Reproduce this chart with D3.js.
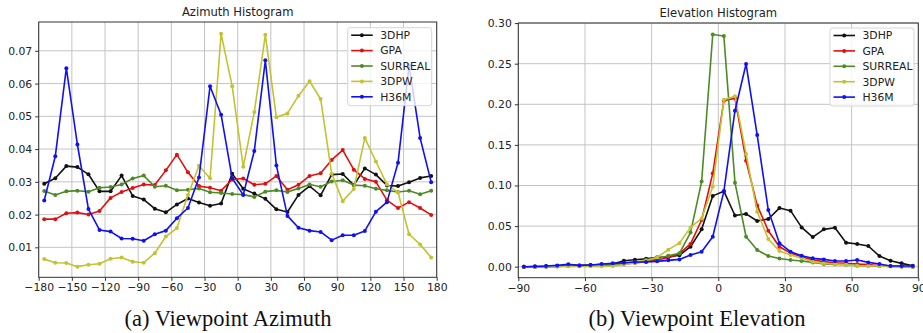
<!DOCTYPE html>
<html>
<head>
<meta charset="utf-8">
<script src="https://cdn.jsdelivr.net/npm/d3@7"></script>
<style>
  html, body { margin: 0; padding: 0; background: #fff; }
  svg { display: block; }
  text { font-family: "DejaVu Sans", sans-serif; fill: #222; }
  .caption { font-family: "Liberation Serif", "DejaVu Serif", serif; fill: #111; }
</style>
</head>
<body>
<svg id="fig" width="923" height="333"></svg>
<script>
// Series names and colours (legend order, also drawing order)
const seriesNames = ["3DHP", "GPA", "SURREAL", "3DPW", "H36M"];
const seriesColors = ["#111111", "#e01010", "#4e8a26", "#c2c232", "#1010f0"];

// Azimuth histogram: 10-degree bins, centres -175 .. 175
const azimuthBins = d3.range(-175, 180, 10);
const azimuth3DHP = [0.0294, 0.0311, 0.0348, 0.0345, 0.0323, 0.0271, 0.0271, 0.0319, 0.0257, 0.0246, 0.0218, 0.0207, 0.0231, 0.0249, 0.0237, 0.0227, 0.0234, 0.0325,
                     0.0279, 0.0264, 0.0248, 0.0216, 0.0208, 0.0260, 0.0287, 0.0259, 0.0322, 0.0324, 0.0290, 0.0341, 0.0322, 0.0289, 0.0287, 0.0299, 0.0312, 0.0318];
const azimuthGPA = [0.0186, 0.0186, 0.0204, 0.0206, 0.0200, 0.0211, 0.0251, 0.0269, 0.0281, 0.0292, 0.0290, 0.0335, 0.0383, 0.0329, 0.0287, 0.0282, 0.0273, 0.0307,
                    0.0310, 0.0291, 0.0294, 0.0318, 0.0276, 0.0291, 0.0318, 0.0326, 0.0367, 0.0397, 0.0337, 0.0309, 0.0300, 0.0244, 0.0220, 0.0238, 0.0220, 0.0199];
const azimuthSURREAL = [0.0272, 0.0260, 0.0271, 0.0273, 0.0270, 0.0282, 0.0284, 0.0292, 0.0310, 0.0319, 0.0285, 0.0288, 0.0274, 0.0276, 0.0280, 0.0268, 0.0266, 0.0263,
                        0.0261, 0.0254, 0.0270, 0.0274, 0.0269, 0.0280, 0.0292, 0.0285, 0.0301, 0.0305, 0.0290, 0.0288, 0.0279, 0.0274, 0.0269, 0.0273, 0.0262, 0.0273];
const azimuth3DPW = [0.0064, 0.0053, 0.0052, 0.0041, 0.0047, 0.0050, 0.0065, 0.0069, 0.0056, 0.0053, 0.0082, 0.0133, 0.0159, 0.0260, 0.0349, 0.0311, 0.0752, 0.0592,
                     0.0346, 0.0513, 0.0749, 0.0497, 0.0509, 0.0563, 0.0607, 0.0553, 0.0325, 0.0241, 0.0278, 0.0434, 0.0362, 0.0292, 0.0268, 0.0140, 0.0109, 0.0069];
const azimuthH36M = [0.0243, 0.0378, 0.0647, 0.0414, 0.0217, 0.0153, 0.0148, 0.0127, 0.0126, 0.0120, 0.0140, 0.0151, 0.0189, 0.0220, 0.0313, 0.0592, 0.0505, 0.0311,
                     0.0260, 0.0394, 0.0671, 0.0350, 0.0196, 0.0160, 0.0151, 0.0147, 0.0122, 0.0137, 0.0137, 0.0150, 0.0209, 0.0238, 0.0358, 0.0655, 0.0434, 0.0299];

// Elevation histogram: 5-degree bins, centres -87.5 .. 87.5
const elevationBins = d3.range(-87.5, 90, 5);
const elevation3DHP = [0, 0, 0.0004, 0.0008, 0.0012, 0.0016, 0.0020, 0.0025, 0.0033, 0.0074, 0.0086, 0.0098, 0.0115, 0.0120, 0.0140, 0.0246, 0.0460, 0.0872,
                       0.0930, 0.0630, 0.0650, 0.0563, 0.0587, 0.0722, 0.0690, 0.0484, 0.0365, 0.0460, 0.0480, 0.0296, 0.0279, 0.0255, 0.0131, 0.0074, 0.0041, 0.0012];
const elevationGPA = [0, 0, 0, 0.0004, 0.0008, 0.0008, 0.0012, 0.0016, 0.0020, 0.0033, 0.0045, 0.0062, 0.0082, 0.0110, 0.0160, 0.0280, 0.0575, 0.1150,
                      0.2045, 0.2075, 0.1305, 0.0755, 0.0443, 0.0246, 0.0168, 0.0123, 0.0082, 0.0062, 0.0049, 0.0041, 0.0033, 0.0025, 0.0012, 0.0008, 0.0004, 0];
const elevationSURREAL = [0, 0, 0, 0.0004, 0.0008, 0.0008, 0.0012, 0.0016, 0.0025, 0.0041, 0.0057, 0.0074, 0.0098, 0.0135, 0.0165, 0.0420, 0.1049, 0.2860,
                          0.2840, 0.1035, 0.0369, 0.0205, 0.0131, 0.0101, 0.0082, 0.0070, 0.0053, 0.0033, 0.0029, 0.0025, 0.0012, 0.0012, 0.0008, 0.0004, 0, 0];
const elevation3DPW = [0, 0, 0, 0, 0.0004, 0.0004, 0.0004, 0.0004, 0.0008, 0.0025, 0.0045, 0.0080, 0.0115, 0.0210, 0.0290, 0.0484, 0.0595, 0.0985,
                       0.2055, 0.2100, 0.1388, 0.0677, 0.0341, 0.0193, 0.0144, 0.0103, 0.0062, 0.0041, 0.0033, 0.0025, 0.0012, 0.0012, 0.0008, 0.0004, 0, 0];
const elevationH36M = [0, 0.0004, 0.0008, 0.0016, 0.0029, 0.0016, 0.0020, 0.0033, 0.0041, 0.0049, 0.0057, 0.0057, 0.0066, 0.0078, 0.0090, 0.0144, 0.0185, 0.0369,
                       0.0928, 0.1921, 0.2496, 0.1621, 0.0698, 0.0290, 0.0185, 0.0135, 0.0103, 0.0090, 0.0070, 0.0070, 0.0082, 0.0053, 0.0033, 0.0008, 0.0008, 0.0008];

// Axis ticks
const azimuthXTicks = d3.range(-180, 181, 30);
const azimuthYTicks = [0.01, 0.02, 0.03, 0.04, 0.05, 0.06, 0.07];
const elevationXTicks = d3.range(-90, 91, 30);
const elevationYTicks = [0.00, 0.05, 0.10, 0.15, 0.20, 0.25, 0.30];

const svg = d3.select("#fig");

function drawPanel(cfg) {
  const x = d3.scaleLinear().domain(cfg.xDomain).range([cfg.left, cfg.right]);
  const y = d3.scaleLinear().domain(cfg.yDomain).range([cfg.bottom, cfg.top]);
  const g = svg.append("g");

  // grid
  g.append("g").selectAll("line").data(cfg.xTicks).join("line")
    .attr("x1", d => x(d)).attr("x2", d => x(d))
    .attr("y1", cfg.top).attr("y2", cfg.bottom)
    .attr("stroke", "#c4c4c4").attr("stroke-width", 1);
  g.append("g").selectAll("line").data(cfg.yTicks).join("line")
    .attr("x1", cfg.left).attr("x2", cfg.right)
    .attr("y1", d => y(d)).attr("y2", d => y(d))
    .attr("stroke", "#c4c4c4").attr("stroke-width", 1);

  // series
  const line = d3.line().x(d => x(d[0])).y(d => y(d[1]));
  cfg.series.forEach((vals, i) => {
    const pts = cfg.bins.map((b, j) => [b, vals[j]]);
    const sg = g.append("g");
    sg.append("path").datum(pts)
      .attr("d", line).attr("fill", "none")
      .attr("stroke", seriesColors[i]).attr("stroke-width", 1.6)
      .attr("stroke-linejoin", "round");
    sg.selectAll("circle").data(pts).join("circle")
      .attr("cx", d => x(d[0])).attr("cy", d => y(d[1])).attr("r", 2)
      .attr("fill", seriesColors[i]);
  });

  // axes
  const xAxis = d3.axisBottom(x).tickValues(cfg.xTicks).tickSize(3.5).tickPadding(3).tickFormat(d3.format("d"));
  const yAxis = d3.axisLeft(y).tickValues(cfg.yTicks).tickSize(3.5).tickPadding(3).tickFormat(d3.format(".2f"));
  const gx = g.append("g").attr("transform", `translate(0,${cfg.bottom})`).call(xAxis);
  const gy = g.append("g").attr("transform", `translate(${cfg.left},0)`).call(yAxis);
  [gx, gy].forEach(a => {
    a.select(".domain").remove();
    a.selectAll("line").attr("stroke", "#333");
    a.selectAll("text").attr("font-family", "DejaVu Sans").attr("font-size", 10.8).attr("fill", "#222");
  });

  // frame
  g.append("rect")
    .attr("x", cfg.left).attr("y", cfg.top)
    .attr("width", cfg.right - cfg.left).attr("height", cfg.bottom - cfg.top)
    .attr("fill", "none").attr("stroke", "#333").attr("stroke-width", 1);

  // title
  g.append("text").attr("x", (cfg.left + cfg.right) / 2).attr("y", cfg.top - 6)
    .attr("text-anchor", "middle").attr("font-size", 11.6).text(cfg.title);

  // legend
  const lg = g.append("g").attr("transform", `translate(${cfg.legendX},${cfg.legendY})`);
  lg.append("rect").attr("width", 84).attr("height", 78).attr("rx", 2.5)
    .attr("fill", "rgba(255,255,255,0.8)").attr("stroke", "#d6d6d6").attr("stroke-width", 1);
  seriesNames.forEach((name, i) => {
    const yy = 7.5 + i * 15.4;
    lg.append("line").attr("x1", 3.5).attr("x2", 25).attr("y1", yy).attr("y2", yy)
      .attr("stroke", seriesColors[i]).attr("stroke-width", 1.6);
    lg.append("circle").attr("cx", 14.2).attr("cy", yy).attr("r", 2).attr("fill", seriesColors[i]);
    lg.append("text").attr("x", 32.5).attr("y", yy).attr("dy", "0.36em")
      .attr("font-size", 10.8).text(name);
  });
}

drawPanel({
  title: "Azimuth Histogram",
  left: 38.7, right: 436.7, top: 22, bottom: 277.3,
  xDomain: [-180, 180], yDomain: [0.00085, 0.0788],
  xTicks: azimuthXTicks, yTicks: azimuthYTicks,
  bins: azimuthBins,
  series: [azimuth3DHP, azimuthGPA, azimuthSURREAL, azimuth3DPW, azimuthH36M],
  legendX: 347.7, legendY: 27.7
});

drawPanel({
  title: "Elevation Histogram",
  left: 518.3, right: 918.3, top: 23, bottom: 277.7,
  xDomain: [-90, 90], yDomain: [-0.01355, 0.3001],
  xTicks: elevationXTicks, yTicks: elevationYTicks,
  bins: elevationBins,
  series: [elevation3DHP, elevationGPA, elevationSURREAL, elevation3DPW, elevationH36M],
  legendX: 830, legendY: 28
});

// sub-figure captions
svg.append("text").attr("class", "caption").attr("x", 228).attr("y", 326)
  .attr("text-anchor", "middle").attr("font-size", 22.5).text("(a) Viewpoint Azimuth");
svg.append("text").attr("class", "caption").attr("x", 697).attr("y", 326)
  .attr("text-anchor", "middle").attr("font-size", 22.5).text("(b) Viewpoint Elevation");
</script>
</body>
</html>
